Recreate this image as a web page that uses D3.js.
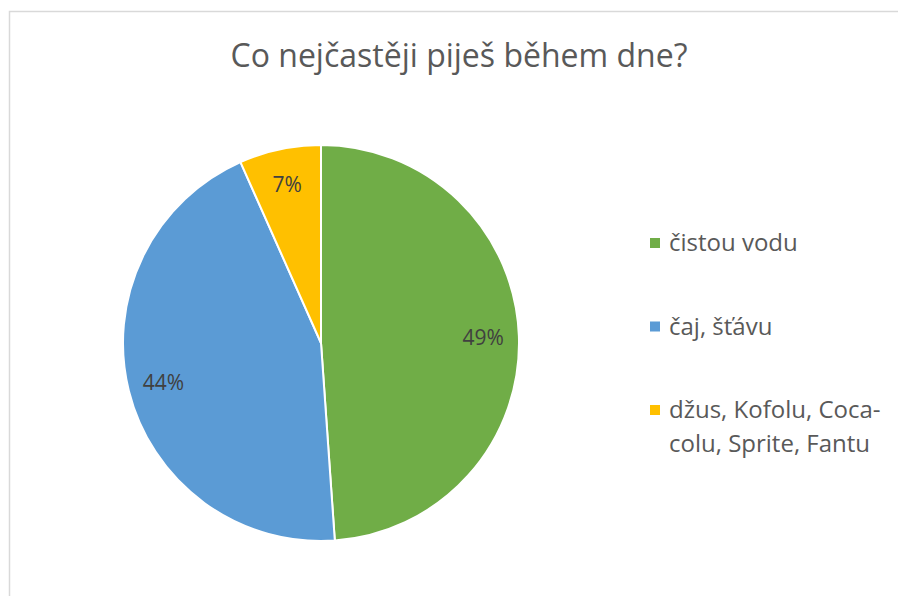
<!DOCTYPE html>
<html>
<head>
<meta charset="utf-8">
<script src="https://cdn.jsdelivr.net/npm/d3@7"></script>
<style>
  body { margin: 0; background: #fff; }
  text { font-family: "Open Sans", "Noto Sans", sans-serif; }
</style>
</head>
<body>
<div id="chart"></div>
<script>
// answers to the survey question
const categories = ["čistou vodu", "čaj, šťávu", "džus, Kofolu, Coca-colu, Sprite, Fantu"];
const legendLines = [["čistou vodu"], ["čaj, šťávu"], ["džus, Kofolu, Coca-", "colu, Sprite, Fantu"]];
const counts = [22, 20, 3];
const colors = ["#70AD47", "#5B9BD5", "#FFC000"];
const title = "Co nejčastěji piješ během dne?";

const width = 898, height = 596;
const cx = 321, cy = 343, radius = 198;

const svg = d3.select("#chart").append("svg")
    .attr("width", width)
    .attr("height", height);

// chart area border
svg.append("rect")
    .attr("x", 9.5).attr("y", 11.5)
    .attr("width", width).attr("height", height)
    .attr("fill", "#fff")
    .attr("stroke", "#D9D9D9")
    .attr("stroke-width", 1.5);

svg.append("text")
    .attr("x", 459).attr("y", 67)
    .attr("text-anchor", "middle")
    .attr("font-size", 32)
    .attr("fill", "#595959")
    .text(title);

const color = d3.scaleOrdinal().domain(categories).range(colors);
const total = d3.sum(counts);

const pie = d3.pie().sort(null).value(d => d.value);
const arcs = pie(categories.map((c, i) => ({name: c, value: counts[i]})));

const arc = d3.arc().innerRadius(0).outerRadius(radius);
const labelArc = d3.arc().innerRadius(radius * 0.82).outerRadius(radius * 0.82);

const g = svg.append("g").attr("transform", `translate(${cx},${cy})`);

g.selectAll("path")
  .data(arcs)
  .join("path")
    .attr("d", arc)
    .attr("fill", d => color(d.data.name))
    .attr("stroke", "#fff")
    .attr("stroke-width", 2);

g.selectAll("text.lbl")
  .data(arcs)
  .join("text")
    .attr("class", "lbl")
    .attr("transform", d => `translate(${labelArc.centroid(d)})`)
    .attr("text-anchor", "middle")
    .attr("dy", "0.35em")
    .attr("font-size", 21)
    .attr("fill", "#404040")
    .text(d => Math.round(d.value / total * 100) + "%");

// legend
const rowY = d3.scalePoint().domain(categories).range([243, 410]);
const legend = svg.append("g");
const item = legend.selectAll("g")
  .data(categories)
  .join("g")
    .attr("transform", d => `translate(650,${rowY(d)})`);

item.append("rect")
    .attr("x", 0).attr("y", -5)
    .attr("width", 10).attr("height", 10)
    .attr("fill", d => color(d));

item.append("text")
    .attr("x", 19)
    .attr("font-size", 24)
    .attr("fill", "#595959")
  .selectAll("tspan")
  .data((d, i) => legendLines[i])
  .join("tspan")
    .attr("x", 19)
    .attr("y", (d, i) => i * 34)
    .attr("dy", "0.35em")
    .text(d => d);
</script>
</body>
</html>
